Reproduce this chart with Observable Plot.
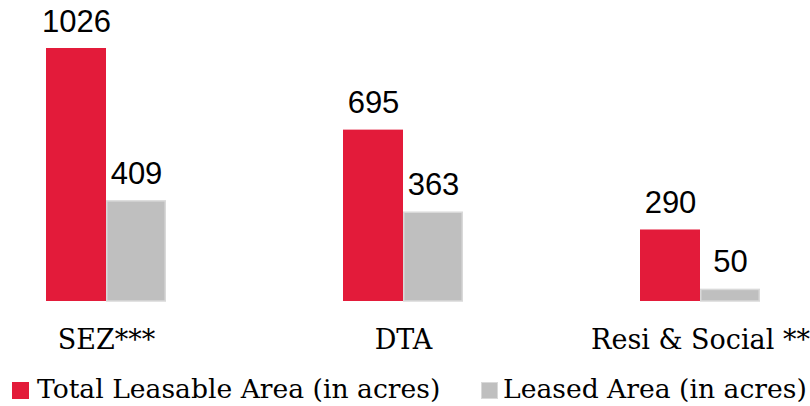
<!DOCTYPE html>
<html>
<head>
<meta charset="utf-8">
<script src="https://cdn.jsdelivr.net/npm/d3@7"></script>
<script src="https://cdn.jsdelivr.net/npm/@observablehq/plot@0.6"></script>
<style>
  html, body { margin: 0; padding: 0; background: #fff; }
  #wrap { position: relative; width: 810px; height: 406px; overflow: hidden; }
  #chart svg { display: block; }
  .leg { position: absolute; top: 374px; font-family: "DejaVu Serif", serif; font-size: 26.6px; color: #000; white-space: nowrap; line-height: 30px; }
  .sw { position: absolute; top: 382px; width: 17px; height: 17px; box-sizing: border-box; }
</style>
</head>
<body>
<div id="wrap">
  <div id="chart"></div>
  <div class="sw" style="left:12px;background:#e31b3a;"></div>
  <div class="leg" id="leg0" style="left:37px;"></div>
  <div class="sw" style="left:481px;background:#bfbfbf;border:1.5px solid #d9d9d9;"></div>
  <div class="leg" id="leg1" style="left:503px;"></div>
</div>
<script>
const categories = ["SEZ***", "DTA", "Resi & Social **"];
const seriesNames = ["Total Leasable Area (in acres)", "Leased Area (in acres)"];
const totalLeasable = [1026, 695, 290];
const leased = [409, 363, 50];
const colors = ["#e31b3a", "#bfbfbf"];

const data = categories.flatMap((c, i) => [
  {cat: c, series: seriesNames[0], value: totalLeasable[i]},
  {cat: c, series: seriesNames[1], value: leased[i]}
]);

const chart = Plot.plot({
  width: 810,
  height: 370,
  marginLeft: 45,
  marginRight: 50,
  marginTop: 0,
  marginBottom: 69,
  fx: {domain: categories, paddingInner: 0.597, paddingOuter: 0, label: null},
  x: {domain: seriesNames, padding: 0, axis: null},
  y: {domain: [0, 1026], range: [301, 48], axis: null},
  color: {domain: seriesNames, range: colors},
  marks: [
    Plot.barY(data, {filter: d => d.series === seriesNames[0], fx: "cat", x: "series", y: "value", fill: "series"}),
    Plot.barY(data, {filter: d => d.series === seriesNames[1], fx: "cat", x: "series", y: "value", fill: "series", stroke: "#d9d9d9", strokeWidth: 1.5, insetTop: 0.75, insetLeft: 0.75, insetRight: 0.75}),
    Plot.text(data, {fx: "cat", x: "series", y: "value", text: d => String(d.value), dy: -17, lineAnchor: "bottom", fontSize: 31, fontFamily: "Liberation Sans, Arial, sans-serif", fill: "#000"}),
    Plot.axisFx({anchor: "bottom", tickSize: 0, tickPadding: 28, fontSize: 27, fontFamily: "DejaVu Serif, serif", label: null, color: "#000"})
  ]
});
document.getElementById("chart").appendChild(chart);
document.getElementById("leg0").textContent = seriesNames[0];
document.getElementById("leg1").textContent = seriesNames[1];
</script>
</body>
</html>
